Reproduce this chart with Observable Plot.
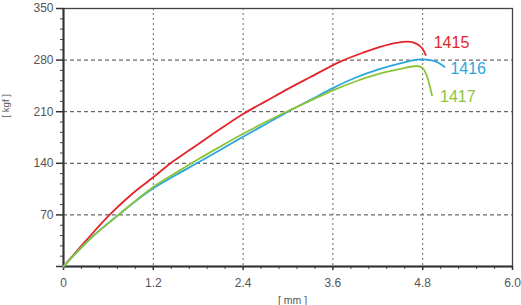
<!DOCTYPE html>
<html><head><meta charset="utf-8">
<script src="https://cdn.jsdelivr.net/npm/d3@7"></script>
<script src="https://cdn.jsdelivr.net/npm/@observablehq/plot@0.6"></script>
<style>body{margin:0;background:#fff}</style>
</head><body><div id="chart"></div>
<script>
const seriesNames = ["1415", "1416", "1417"];
const seriesColors = ["#e2252b", "#2aa6de", "#8cc43c"];

const x1415 = [0, 0.3, 0.615, 0.9, 1.2, 1.43, 1.7, 2.0, 2.4, 2.7, 3.0, 3.3, 3.7, 4.0, 4.23, 4.45, 4.6, 4.72, 4.8, 4.84];
const y1415 = [0, 35, 70, 97, 121, 140, 159, 180, 207, 224, 241, 257, 278, 290, 298, 303.5, 305, 302, 295, 287];

const x1416 = [0, 0.35, 0.735, 1.2, 1.5, 1.8, 2.1, 2.4, 2.7, 3.0, 3.3, 3.6, 3.9, 4.2, 4.5, 4.77, 4.95, 5.09];
const y1416 = [0, 37, 70, 106, 124, 141, 158.5, 176, 193, 210, 226, 242, 256, 267, 275.5, 281, 279, 271];

const x1417 = [0, 0.35, 0.735, 1.2, 1.5, 1.8, 2.1, 2.4, 2.7, 3.0, 3.3, 3.6, 3.9, 4.2, 4.5, 4.72, 4.8, 4.87, 4.925];
const y1417 = [0, 37, 70, 108, 127, 145.5, 163, 180, 196, 211, 225, 239, 251, 261, 268, 272, 269, 254, 232];

const xTicks = [0, 1.2, 2.4, 3.6, 4.8, 6.0];
const xTickLabels = ["0", "1.2", "2.4", "3.6", "4.8", "6.0"];
const xMinor = [0.24, 0.48, 0.72, 0.96, 1.44, 1.68, 1.92, 2.16, 2.64, 2.88, 3.12, 3.36, 3.84, 4.08, 4.32, 4.56, 5.04, 5.28, 5.52, 5.76];
const yTicks = [0, 70, 140, 210, 280, 350];
const yTickLabels = ["", "70", "140", "210", "280", "350"];
const yMinor = [14, 28, 42, 56, 84, 98, 112, 126, 154, 168, 182, 196, 224, 238, 252, 266, 294, 308, 322, 336];
const xGrid = [1.2, 2.4, 3.6, 4.8];
const yGrid = [70, 140, 210, 280];
const xTitle = "[ mm ]";
const yTitle = "[ kgf ]";

const seriesData = [[x1415, y1415], [x1416, y1416], [x1417, y1417]];
const rows = seriesData.flatMap(([xs, ys], k) => xs.map((x, i) => ({s: seriesNames[k], x, y: ys[i]})));
const labelOffsets = {"1415": [8, -12], "1416": [6, 2], "1417": [8, 1]};

const chart = Plot.plot({
  width: 521, height: 305,
  marginLeft: 63, marginRight: 9, marginTop: 8, marginBottom: 39,
  x: {domain: [0, 6]},
  y: {domain: [0, 350]},
  color: {domain: seriesNames, range: seriesColors},
  style: {fontFamily: "Liberation Sans, Arial, sans-serif", background: "white"},
  marks: [
    Plot.gridY(yGrid, {stroke: "#444", strokeOpacity: 1, strokeDasharray: "4,3"}),
    Plot.gridX(xGrid, {stroke: "#666", strokeOpacity: 1, strokeDasharray: "2,3"}),
    Plot.frame({stroke: "#444", strokeWidth: 1.3}),
    Plot.axisY(yTicks, {tickSize: 7, tickPadding: 3, fontSize: 12, color: "#555", stroke: "#333", strokeWidth: 1.5, label: null, tickFormat: (d, i) => yTickLabels[i]}),
    Plot.axisY(yMinor, {tickSize: 3, text: null, label: null, stroke: "#444"}),
    Plot.axisX(xTicks, {tickSize: 4, tickPadding: 8, fontSize: 12, color: "#555", stroke: "#333", strokeWidth: 1.5, label: null, tickFormat: (d, i) => xTickLabels[i]}),
    Plot.axisX(xMinor, {tickSize: 3, text: null, label: null, stroke: "#444"}),
    Plot.ruleX([0], {stroke: "#333", strokeWidth: 2}),
    Plot.ruleY([0], {stroke: "#333", strokeWidth: 2}),
    Plot.line(rows, {x: "x", y: "y", z: "s", stroke: "s", strokeWidth: 1.8, curve: "monotone-x"}),
    ...seriesNames.map(n => Plot.text(rows.filter(r => r.s === n), Plot.selectLast({
      x: "x", y: "y", text: "s", fill: "s", fontSize: 16, textAnchor: "start",
      dx: labelOffsets[n][0], dy: labelOffsets[n][1]
    }))),
    Plot.text([yTitle], {x: 0, y: 218, dx: -58, rotate: -90, fontSize: 9.5, fill: "#555", text: d => d}),
    Plot.text([xTitle], {x: 3.06, y: 0, dy: 34, fontSize: 10.5, fill: "#555", text: d => d})
  ]
});
document.getElementById("chart").append(chart);
</script>
</body></html>
